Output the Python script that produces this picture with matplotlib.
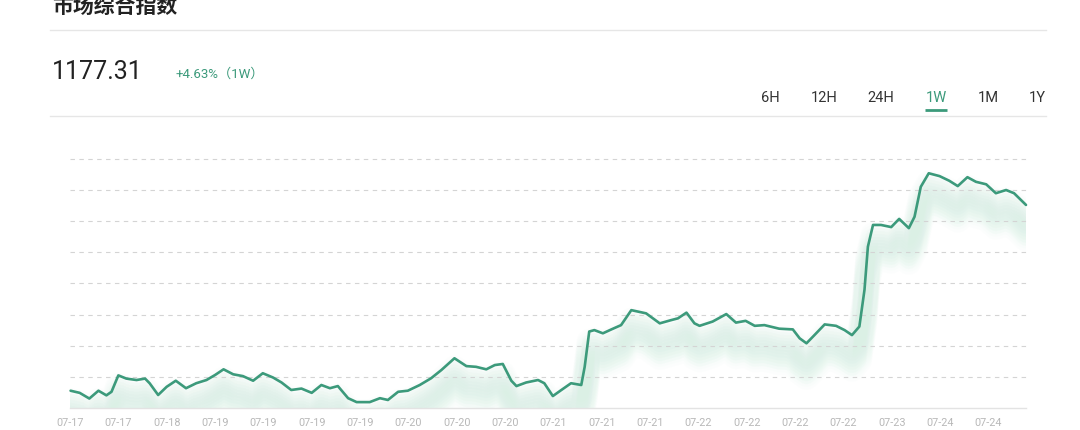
import matplotlib
matplotlib.use('Agg')
import matplotlib.pyplot as plt
import matplotlib.transforms as mtransforms
from matplotlib.lines import Line2D
import numpy as np

plt.rcParams['font.family'] = ['Roboto', 'Noto Sans CJK SC', 'DejaVu Sans']

# --- data (hours since start of week, index value) ---
hours = [0, 1.6, 3.3, 4.9, 6.3, 7.2, 8.4, 9.8, 11.6, 13.1, 13.9, 15.4, 16.9, 18.5,
         20.3, 22.1, 23.9, 25.4, 26.9, 28.6, 30.3, 32.1, 33.8, 35.6, 37.1, 38.8,
         40.6, 42.4, 44.1, 45.6, 47.0, 48.8, 50.3, 52.6, 54.4, 55.8, 57.6, 59.3,
         61.4, 63.4, 65.2, 67.5, 69.6, 71.3, 73.1, 74.6, 76.0, 77.5, 78.4, 80.1,
         82.2, 83.3, 84.8, 86.3, 88.0, 89.8, 90.4, 91.2, 92.1, 93.6, 95.1, 96.8,
         98.6, 101.2, 103.6, 105.6, 106.8, 108.3, 109.7, 110.6, 112.9, 115.3,
         117.0, 118.7, 120.3, 122.0, 124.6, 127.0, 128.2, 129.4, 130.8, 132.6,
         134.6, 136.1, 137.4, 138.7, 139.6, 140.2, 141.1, 142.5, 144.3, 145.7,
         147.4, 148.4, 149.5, 150.9, 152.8, 154.5, 156.0, 157.7, 159.2, 161.0,
         162.7, 164.5, 165.9, 168.0]
index_vals = [1125.2, 1124.6, 1123.0, 1125.2, 1123.9, 1124.9, 1129.5, 1128.6, 1128.2,
              1128.6, 1127.3, 1124.0, 1126.3, 1128.0, 1125.9, 1127.3, 1128.2, 1129.6,
              1131.2, 1129.8, 1129.3, 1128.0, 1130.1, 1128.9, 1127.5, 1125.4, 1125.8,
              1124.6, 1126.8, 1125.9, 1126.5, 1123.1, 1122.0, 1122.0, 1123.1, 1122.6,
              1124.9, 1125.2, 1126.8, 1128.7, 1131.0, 1134.3, 1132.1, 1131.9, 1131.2,
              1132.4, 1132.7, 1128.0, 1126.5, 1127.5, 1128.2, 1127.3, 1123.7, 1125.4,
              1127.3, 1126.8, 1131.9, 1141.8, 1142.2, 1141.3, 1142.4, 1143.6, 1147.8,
              1146.9, 1144.1, 1145.0, 1145.5, 1147.1, 1144.1, 1143.4, 1144.6, 1146.7,
              1144.3, 1144.8, 1143.4, 1143.6, 1142.6, 1142.4, 1139.9, 1138.5, 1140.8,
              1143.8, 1143.4, 1142.2, 1140.8, 1143.2, 1153.5, 1165.6, 1171.7, 1171.7,
              1171.1, 1173.4, 1170.8, 1174.0, 1182.4, 1186.2, 1185.4, 1184.1, 1182.6,
              1185.1, 1183.8, 1183.1, 1180.6, 1181.5, 1180.6, 1177.31]
tick_labels = ['07-17', '07-17', '07-18', '07-19', '07-19', '07-19', '07-19', '07-20',
               '07-20', '07-20', '07-21', '07-21', '07-21', '07-22', '07-22', '07-22',
               '07-22', '07-23', '07-24', '07-24']
ranges = ['6H', '12H', '24H', '1W', '1M', '1Y']
active_range = '1W'
title = '市场综合指数'
last_value = '1177.31'
change = '+4.63%（1W）'

green = '#3c9a7b'
W, H = 1080, 430
fig = plt.figure(figsize=(W / 100, H / 100), dpi=100)
fig.patch.set_facecolor('white')

def fx(px):
    return px / W

def fy(py):
    return 1 - py / H

# header
fig.text(fx(52), fy(13), title, fontsize=15, fontweight='bold', color='#222222',
         family=['Noto Sans CJK SC'], va='baseline')
fig.add_artist(Line2D([fx(50), fx(1046)], [fy(30), fy(30)], color='#e6e6e6', lw=1))
fig.text(fx(52), fy(79), last_value, fontsize=18, color='#222222', va='baseline')
fig.text(fx(176), fy(78), change, fontsize=9.5, color=green,
         family=['Roboto', 'Noto Sans CJK SC'], va='baseline')
tab_x = [770, 824, 881, 936, 988, 1037]
for lab, x in zip(ranges, tab_x):
    c = green if lab == active_range else '#333333'
    fig.text(fx(x), fy(102), lab, fontsize=10.5, color=c, ha='center', va='baseline')
    if lab == active_range:
        fig.add_artist(Line2D([fx(x - 11), fx(x + 11)], [fy(110), fy(110)],
                              color=green, lw=2, solid_capstyle='butt'))
fig.add_artist(Line2D([fx(50), fx(1046)], [fy(116), fy(116)], color='#e6e6e6', lw=1))

# chart area
ax = fig.add_axes([fx(70), fy(408), fx(1026) - fx(70), (408 - 159) / H])
ymin, ymax = 1120.35, 1190.2
ax.set_xlim(0, 168)
ax.set_ylim(ymin, ymax)
for s in ax.spines.values():
    s.set_visible(False)
ax.axhline(ymin, color='#e3e3e3', lw=1, clip_on=False)
for gv in np.linspace(ymin, ymax, 9)[1:]:
    ax.axhline(gv, color='#d4d4d4', lw=0.8, ls=(0, (4, 4)), clip_on=False)

# soft blurred shadow below the line (pale mint, stacked offset copies)
for dy in range(-10, -37, -3):
    for lw, a in [(18, 0.07), (10, 0.09)]:
        tr = mtransforms.offset_copy(ax.transData, fig=fig, x=0, y=dy, units='dots')
        ax.plot(hours, index_vals, color='#d6f0e4', lw=lw, alpha=a, transform=tr,
                solid_joinstyle='round', solid_capstyle='round', zorder=1)

ax.plot(hours, index_vals, color=green, lw=1.9, solid_joinstyle='round',
        solid_capstyle='round', zorder=3, clip_on=False)

ax.set_xticks(np.arange(len(tick_labels)) * 8.5 - 0.1)
ax.set_xticklabels(tick_labels, fontsize=7.8, color='#b8b8b8')
ax.tick_params(axis='x', length=0, pad=7)
ax.set_yticks([])

fig.savefig('out.png', dpi=100, facecolor='white')
